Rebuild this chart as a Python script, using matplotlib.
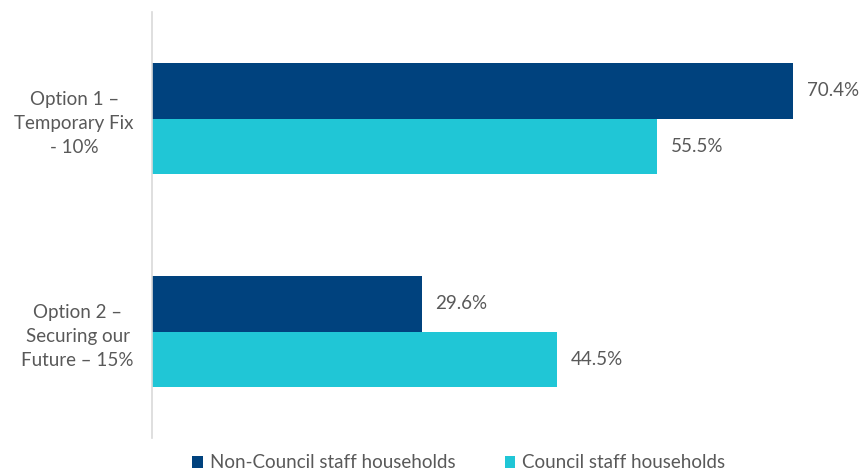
import matplotlib.pyplot as plt
import numpy as np

categories = ['Option 1 –\nTemporary Fix\n- 10%', 'Option 2 –\nSecuring our\nFuture – 15%']
series_names = ['Non-Council staff households', 'Council staff households']
non_council = [70.4, 29.6]
council = [55.5, 44.5]
colours = ['#00427e', '#20c6d6']

plt.rcParams['font.family'] = ['Lato', 'DejaVu Sans']
grey = '#595959'
fs = 13.5

fig = plt.figure(figsize=(8.59, 4.75), dpi=100)
ax = fig.add_axes([152 / 859, 1 - 438 / 475, 683 / 859, 426 / 475])

# categories top to bottom
pos = np.array([1, 0])
h = 0.26
bars1 = ax.barh(pos + h / 2, non_council, height=h, color=colours[0], label=series_names[0])
bars2 = ax.barh(pos - h / 2, council, height=h, color=colours[1], label=series_names[1])

for bars, vals in [(bars1, non_council), (bars2, council)]:
    for b, v in zip(bars, vals):
        ax.annotate(f'{v:.1f}%', (b.get_width(), b.get_y() + b.get_height() / 2),
                    xytext=(10, 0), textcoords='offset points', va='center', ha='left',
                    fontsize=fs, color=grey)

ax.set_xlim(0, 75)
ax.set_ylim(-0.5, 1.5)
ax.set_yticks(pos)
ax.set_yticklabels(categories, fontsize=fs, color=grey, multialignment='center', linespacing=1.5)
ax.tick_params(axis='y', length=0, pad=13)
ax.set_xticks([])
for s in ['top', 'right', 'bottom']:
    ax.spines[s].set_visible(False)
ax.spines['left'].set_color('#d9d9d9')
ax.spines['left'].set_linewidth(1.2)

leg = fig.legend(loc='center', bbox_to_anchor=(459 / 859, 1 - 463 / 475), ncol=2, frameon=False,
                 fontsize=fs, handlelength=0.55, handleheight=0.55, handletextpad=0.4,
                 columnspacing=2.6)
for t in leg.get_texts():
    t.set_color(grey)

fig.savefig('out.png', dpi=100)
